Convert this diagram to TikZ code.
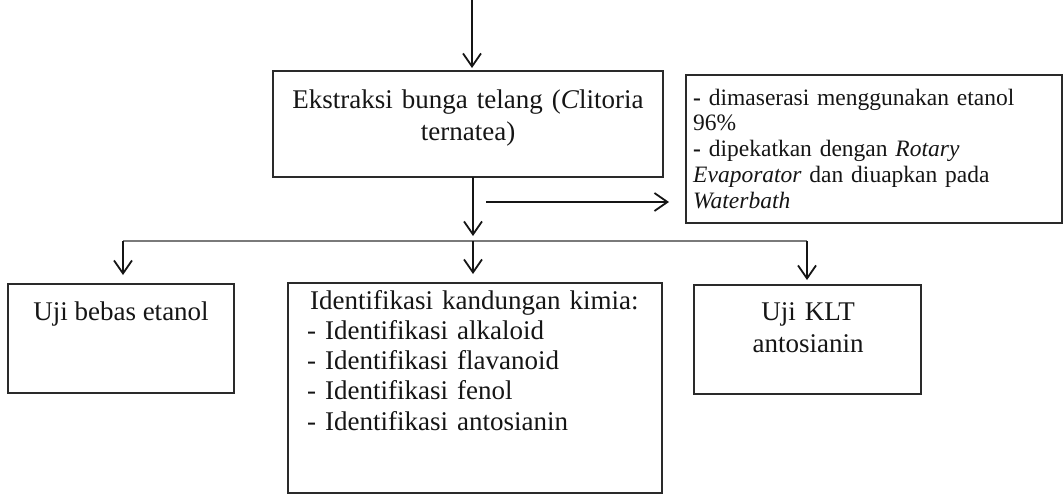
\documentclass[tikz,border=0pt]{standalone}
\usepackage{fontspec}
\setmainfont{Liberation Serif}
\usetikzlibrary{arrows.meta}
\definecolor{ink}{HTML}{151515}
\definecolor{frame}{HTML}{2A2A2A}
\definecolor{rule}{HTML}{7A7A7A}
\begin{document}
\begin{tikzpicture}[x=1pt,y=-1pt,
  box/.style={draw=frame, line width=2pt, inner sep=0pt, outer sep=0pt, anchor=north west},
  big/.style={font=\fontsize{27}{31}\selectfont, text=ink, inner sep=0pt},
  small/.style={font=\fontsize{23.5}{25.8}\selectfont, text=ink, inner sep=0pt},
  arr/.style={draw=ink, line width=1.8pt, -{Straight Barb[length=13pt,width=18pt]}},
  branch/.style={draw=rule, line width=1.3pt}]

\useasboundingbox (0,0) rectangle (1064,496);

% boxes
\node[box, minimum width=390pt, minimum height=106pt] (main) at (273,71) {};
\node[box, minimum width=376pt, minimum height=148pt] (note) at (686,75) {};
\node[box, minimum width=226pt, minimum height=109pt] (ujib) at (8,284) {};
\node[box, minimum width=374pt, minimum height=210pt] (ident) at (288,283) {};
\node[box, minimum width=227pt, minimum height=109pt] (klt) at (694,285) {};

% texts
\node[big, anchor=base, text width=390pt, align=center] (maintext) at (468,108)
  {Ekstraksi bunga telang (\textit{C}litoria\\[1pt]ternatea)};
\node[small, anchor=base west, text width=365pt, align=left] (notetext) at (693,105)
  {\textbf{-} dimaserasi menggunakan etanol\\
   96\%\\
   \textbf{-} dipekatkan dengan \textit{Rotary}\\
   \textit{Evaporator} dan diuapkan pada\\
   \textit{Waterbath}};
\node[big, anchor=base] (ujibtext) at (121,320) {Uji bebas etanol};
\node[big, anchor=base west, text width=360pt, align=left,
      font=\fontsize{27}{30.3}\selectfont] (identtext) at (307,309)
  {\hspace*{3pt}Identifikasi kandungan kimia:\\
   - Identifikasi alkaloid\\
   - Identifikasi flavanoid\\
   - Identifikasi fenol\\
   - Identifikasi antosianin};
\node[big, anchor=base, text width=227pt, align=center,
      font=\fontsize{27}{32}\selectfont] (klttext) at (808,320)
  {Uji KLT\\antosianin};

% connector points
\coordinate (top) at (472,0);
\coordinate (split) at (473,241);
\coordinate (bl) at (123,241);
\coordinate (br) at (807,241);
\coordinate (side) at (486,202);

% connectors
\draw[arr, shorten >=3pt] (top) -- (top |- main.north);
\draw[arr, shorten >=5pt] (split |- main.south) -- (split);
\draw[arr, shorten >=17pt] (side) -- (side -| note.west);
\draw[branch] (bl) -- (br);
\draw[arr, shorten >=9pt] (bl) -- (bl |- ujib.north);
\draw[arr, shorten >=9pt] (split) -- (split |- ident.north);
\draw[arr, shorten >=5pt] (br) -- (br |- klt.north);
\end{tikzpicture}
\end{document}
